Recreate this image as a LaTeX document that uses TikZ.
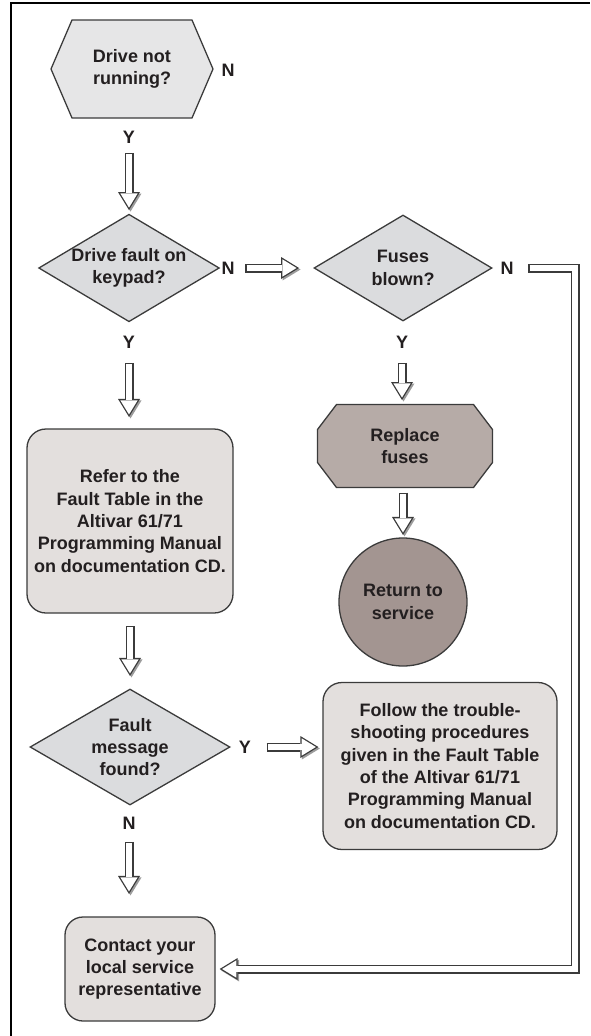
\documentclass[tikz,border=0pt]{standalone}
\usepackage{fontspec}
\setmainfont{Liberation Sans}
\usetikzlibrary{shapes.geometric,arrows.meta}
\pgfdeclarelayer{fondo}
\pgfsetlayers{fondo,main}
\definecolor{tinta}{HTML}{231F20}
\definecolor{borde}{HTML}{3B3B3B}
\definecolor{sombra}{HTML}{9C9C9C}
\definecolor{hexfill}{HTML}{E6E6E7}
\definecolor{qfill}{HTML}{DBDCDE}
\definecolor{cajafill}{HTML}{E3DFDD}
\definecolor{fusfill}{HTML}{B6ABA7}
\definecolor{volfill}{HTML}{A39591}

\begin{document}
\begin{tikzpicture}[x=1pt,y=-1pt,
    every node/.style={font=\fontsize{18}{22.3}\selectfont\bfseries,text=tinta,align=center},
    lbl/.style={inner sep=0pt},
    forma/.style={draw=borde,line width=1.3pt},
    poli/.style={rectangle,inner sep=0pt,outer sep=0pt},
    decision/.style={diamond,forma,fill=qfill,inner sep=0pt},
    caja/.style={rectangle,rounded corners=19pt,forma,fill=cajafill,inner sep=0pt},
    blk/.style 2 args={draw=borde,line width=9pt,shorten <=#1,shorten >=#2,
        -{Triangle[length=18pt 0 0,width=22pt 0 0,line width=0pt 0 0]},
        preaction={draw=sombra,transform canvas={shift={(1.5pt,-1.5pt)}}},
        postaction={draw=white,line width=6.4pt,shorten <=#1+1.3pt,shorten >=#2+2.5pt,
            -{Triangle[length=14.2pt 0 0,width=17.4pt 0 0,line width=0pt 0 0]}}}]
\useasboundingbox (0,0) rectangle (590,1036);

%Marco
\draw[line width=2.2pt,black] (11,1036) -- (11,3) -- (590,3);

%Columna izquierda
\node[poli,minimum width=162pt,minimum height=98pt] (q1) at (132,69) {Drive not\\running?};
\node[lbl] (n1) at (228,70) {N};
\node[lbl] (y1) at (129,137) {Y};
\node[decision,aspect=1.68,minimum width=178pt,minimum height=106pt] (q2) at (129,268) {Drive fault on\\keypad?};
\node[lbl] (n2) at (228,268) {N};
\node[lbl] (y2) at (129,342) {Y};
\node[caja,minimum width=206pt,minimum height=184pt] (r1) at (130,521)
    {Refer to the\\Fault Table in the\\Altivar 61/71\\Programming Manual\\on documentation CD.};
\node[decision,aspect=1.72,minimum width=200pt,minimum height=116pt] (q4) at (130,747) {Fault\\message\\found?};
\node[lbl] (y4) at (245,747) {Y};
\node[lbl] (n4) at (129,823) {N};
\node[caja,rounded corners=18pt,minimum width=150pt,minimum height=104pt] (r4) at (140,969)
    {Contact your\\local service\\representative};

%Columna derecha
\node[decision,aspect=1.68,minimum width=178pt,minimum height=106pt] (q3) at (403,268) {Fuses\\blown?};
\node[lbl] (n3) at (507,268) {N};
\node[lbl] (y3) at (402,342) {Y};
\node[poli,minimum width=175pt,minimum height=83pt] (q5) at (405,446) {Replace\\fuses};
\node[circle,forma,fill=volfill,minimum size=128pt,inner sep=0pt] (q6) at (403,602) {Return to\\service};
\node[caja,minimum width=234pt,minimum height=167pt] (r2) at (440,766)
    {Follow the trouble-\\shooting procedures\\given in the Fault Table\\of the Altivar 61/71\\Programming Manual\\on documentation CD.};

%Hexagono y octogono
\begin{pgfonlayer}{fondo}
\draw[forma,fill=hexfill] (q1.west) -- ([xshift=21pt]q1.north west) -- ([xshift=-21pt]q1.north east)
    -- (q1.east) -- ([xshift=-21pt]q1.south east) -- ([xshift=21pt]q1.south west) -- cycle;
\draw[forma,fill=fusfill] ([yshift=-25pt]q5.north west) -- ([xshift=19pt]q5.north west)
    -- ([xshift=-19pt]q5.north east) -- ([yshift=-25pt]q5.north east) -- ([yshift=25pt]q5.south east)
    -- ([xshift=-19pt]q5.south east) -- ([xshift=19pt]q5.south west) -- ([yshift=25pt]q5.south west) -- cycle;
\end{pgfonlayer}

%Flechas
\draw[blk={9.5pt}{3.5pt}] (y1) -- (q2);
\draw[blk={10.5pt}{14.3pt}] (n2) -- (q3);
\draw[blk={14.5pt}{4pt}] (n3) -- ++(68,0) |- (r4);
\draw[blk={14.5pt}{11.4pt}] (y2) -- (y2 |- r1.north);
\draw[blk={14.5pt}{4.5pt}] (y3) -- (y3 |- q5.north);
\draw[blk={5pt}{2.4pt}] (q6 |- q5.south) -- (q6);
\draw[blk={12.4pt}{12.4pt}] (r1) -- (q4);
\draw[blk={15.5pt}{4pt}] (y4) -- (y4 -| r2.west);
\draw[blk={12.5pt}{22.4pt}] (n4) -- (n4 |- r4.north);
\end{tikzpicture}
\end{document}
